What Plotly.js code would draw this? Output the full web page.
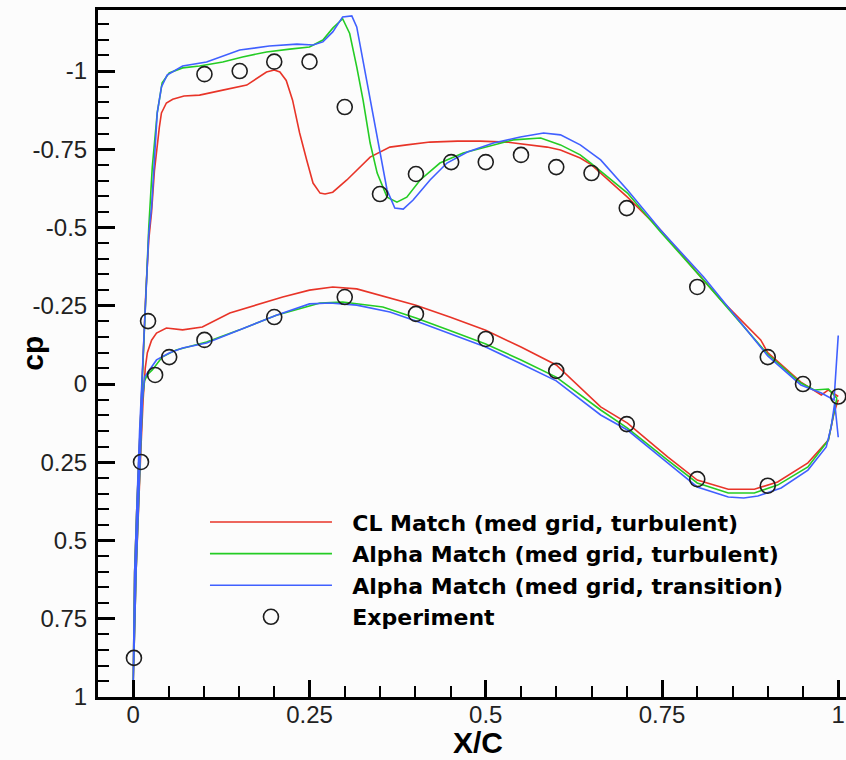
<!DOCTYPE html>
<html>
<head>
<meta charset="utf-8">
<script src="https://cdn.plot.ly/plotly-3.0.1.min.js"></script>
<style>html,body{margin:0;padding:0;background:#fcfcfc;}</style>
</head>
<body>
<div id="chart" style="width:846px;height:760px;"></div>
<script>
// ---- Data ----
const seriesNames = [
  "CL Match (med grid, turbulent)",
  "Alpha Match (med grid, turbulent)",
  "Alpha Match (med grid, transition)",
  "Experiment"
];

// CL Match (med grid, turbulent)
const redUpperX  = [0, 0.002, 0.005, 0.009, 0.013, 0.018, 0.022, 0.026, 0.03, 0.033, 0.037, 0.04, 0.047, 0.056, 0.072, 0.094, 0.127, 0.161, 0.179, 0.189, 0.2, 0.208, 0.217, 0.226, 0.236, 0.246, 0.255, 0.265, 0.272, 0.283, 0.303, 0.336, 0.364, 0.388, 0.421, 0.46, 0.492, 0.53, 0.587, 0.606, 0.634, 0.65, 0.701, 0.748, 0.809, 0.834, 0.89, 0.9, 0.947, 0.976, 0.986, 1.0];
const redUpperCp = [0.95, 0.6, 0.4, 0.15, -0.05, -0.3, -0.46, -0.55, -0.68, -0.738, -0.82, -0.866, -0.898, -0.91, -0.92, -0.923, -0.939, -0.955, -0.981, -0.997, -1.003, -0.997, -0.97, -0.907, -0.802, -0.716, -0.642, -0.61, -0.607, -0.613, -0.652, -0.725, -0.757, -0.764, -0.773, -0.776, -0.776, -0.773, -0.757, -0.748, -0.722, -0.7, -0.597, -0.492, -0.332, -0.268, -0.141, -0.1, -0.006, 0.035, 0.019, 0.04];
const redLowerX  = [0, 0.004, 0.008, 0.011, 0.014, 0.017, 0.02, 0.026, 0.033, 0.047, 0.07, 0.098, 0.137, 0.175, 0.212, 0.25, 0.283, 0.317, 0.364, 0.401, 0.45, 0.5, 0.55, 0.6, 0.663, 0.701, 0.758, 0.8, 0.844, 0.881, 0.914, 0.957, 0.986, 0.994, 1.0];
const redLowerCp = [0.95, 0.6, 0.35, 0.2, 0.05, -0.05, -0.1, -0.14, -0.163, -0.179, -0.173, -0.182, -0.227, -0.252, -0.278, -0.3, -0.31, -0.304, -0.275, -0.252, -0.213, -0.172, -0.118, -0.061, 0.073, 0.125, 0.233, 0.307, 0.336, 0.336, 0.313, 0.252, 0.179, 0.093, 0.05];

// Alpha Match (med grid, turbulent)
const greenUpperX  = [0, 0.002, 0.005, 0.009, 0.013, 0.018, 0.022, 0.027, 0.034, 0.041, 0.051, 0.07, 0.094, 0.127, 0.155, 0.189, 0.222, 0.25, 0.269, 0.283, 0.297, 0.307, 0.317, 0.326, 0.336, 0.346, 0.36, 0.374, 0.388, 0.407, 0.435, 0.468, 0.502, 0.539, 0.578, 0.606, 0.634, 0.649, 0.701, 0.748, 0.809, 0.9, 0.947, 0.966, 0.986, 0.998];
const greenUpperCp = [0.95, 0.6, 0.4, 0.15, -0.05, -0.3, -0.5, -0.693, -0.866, -0.962, -0.994, -1.01, -1.016, -1.029, -1.045, -1.061, -1.07, -1.077, -1.099, -1.137, -1.167, -1.12, -1.013, -0.907, -0.77, -0.674, -0.597, -0.581, -0.597, -0.652, -0.706, -0.738, -0.757, -0.78, -0.786, -0.764, -0.732, -0.706, -0.61, -0.486, -0.332, -0.095, -0.003, 0.019, 0.016, 0.045];
const greenLowerX  = [0, 0.004, 0.008, 0.011, 0.013, 0.016, 0.02, 0.027, 0.041, 0.061, 0.104, 0.151, 0.203, 0.265, 0.297, 0.354, 0.401, 0.45, 0.5, 0.55, 0.6, 0.663, 0.701, 0.758, 0.8, 0.844, 0.881, 0.914, 0.957, 0.986, 0.993, 0.998];
const greenLowerCp = [0.95, 0.6, 0.35, 0.2, 0.05, -0.01, -0.03, -0.045, -0.086, -0.109, -0.134, -0.173, -0.22, -0.259, -0.262, -0.246, -0.211, -0.17, -0.128, -0.077, -0.022, 0.083, 0.141, 0.243, 0.316, 0.348, 0.348, 0.323, 0.265, 0.179, 0.105, 0.045];

// Alpha Match (med grid, transition)
const blueUpperX  = [0, 0.002, 0.005, 0.009, 0.013, 0.018, 0.022, 0.026, 0.03, 0.034, 0.04, 0.048, 0.07, 0.104, 0.151, 0.193, 0.232, 0.255, 0.269, 0.283, 0.297, 0.31, 0.317, 0.326, 0.339, 0.35, 0.36, 0.371, 0.383, 0.397, 0.421, 0.445, 0.474, 0.511, 0.549, 0.582, 0.606, 0.634, 0.663, 0.701, 0.748, 0.809, 0.9, 0.947, 0.976, 0.994, 1.0];
const blueUpperCp = [0.95, 0.6, 0.4, 0.15, -0.05, -0.3, -0.48, -0.565, -0.716, -0.866, -0.949, -0.987, -1.016, -1.029, -1.067, -1.08, -1.086, -1.083, -1.093, -1.125, -1.173, -1.176, -1.141, -1.035, -0.875, -0.74, -0.62, -0.562, -0.559, -0.588, -0.652, -0.706, -0.741, -0.77, -0.789, -0.802, -0.796, -0.764, -0.716, -0.62, -0.492, -0.342, -0.09, 0.003, 0.029, 0.051, -0.155];
const blueLowerX  = [0, 0.004, 0.008, 0.011, 0.013, 0.016, 0.033, 0.051, 0.07, 0.104, 0.151, 0.203, 0.25, 0.279, 0.317, 0.364, 0.401, 0.45, 0.5, 0.55, 0.6, 0.663, 0.701, 0.758, 0.8, 0.844, 0.866, 0.886, 0.919, 0.957, 0.983, 0.99, 0.995, 1.0];
const blueLowerCp = [0.95, 0.6, 0.35, 0.2, 0.05, -0.022, -0.077, -0.099, -0.115, -0.131, -0.173, -0.22, -0.256, -0.259, -0.252, -0.23, -0.201, -0.16, -0.118, -0.065, -0.01, 0.099, 0.147, 0.252, 0.329, 0.361, 0.364, 0.358, 0.332, 0.275, 0.201, 0.137, 0.06, 0.17];

// Experiment
const expX  = [0.001, 0.011, 0.021, 0.031, 0.051, 0.101, 0.2, 0.3, 0.401, 0.5, 0.6, 0.7, 0.8, 0.9, 0.101, 0.151, 0.2, 0.25, 0.3, 0.35, 0.401, 0.451, 0.5, 0.55, 0.6, 0.65, 0.7, 0.8, 0.9, 0.95, 1.0];
const expCp = [0.875, 0.249, -0.201, -0.029, -0.086, -0.141, -0.214, -0.278, -0.224, -0.144, -0.042, 0.128, 0.304, 0.325, -0.99, -1.0, -1.03, -1.03, -0.885, -0.607, -0.671, -0.709, -0.709, -0.732, -0.693, -0.674, -0.562, -0.31, -0.086, 0.0, 0.04];

// Tick labels and axis titles
const xTickVals = [0, 0.25, 0.5, 0.75, 1];
const xTickText = ["0", "0.25", "0.5", "0.75", "1"];
const yTickVals = [-1, -0.75, -0.5, -0.25, 0, 0.25, 0.5, 0.75, 1];
const yTickText = ["-1", "-0.75", "-0.5", "-0.25", "0", "0.25", "0.5", "0.75", "1"];
const xTitle = "X/C";
const yTitle = "cp";

// ---- Build traces: upper surface (TE -> LE) then lower surface (LE -> TE) ----
function loop(ux, uy, lx, ly) {
  return {
    x: ux.slice().reverse().concat(lx.slice(1)),
    y: uy.slice().reverse().concat(ly.slice(1))
  };
}
const red = loop(redUpperX, redUpperCp, redLowerX, redLowerCp);
const green = loop(greenUpperX, greenUpperCp, greenLowerX, greenLowerCp);
const blue = loop(blueUpperX, blueUpperCp, blueLowerX, blueLowerCp);

const pad = "\u00a0\u00a0";
const traces = [
  {x: red.x, y: red.y, mode: "lines", name: pad + seriesNames[0], line: {color: "rgb(232,52,40)", width: 1.6}},
  {x: green.x, y: green.y, mode: "lines", name: pad + seriesNames[1], line: {color: "rgb(36,204,36)", width: 1.6}},
  {x: blue.x, y: blue.y, mode: "lines", name: pad + seriesNames[2], line: {color: "rgb(64,96,255)", width: 1.6}},
  {x: expX, y: expCp, mode: "markers", name: pad + seriesNames[3],
   marker: {symbol: "circle-open", size: 15, color: "#1e1e1e", line: {width: 1.6}}}
];

const axisCommon = {
  showgrid: false, zeroline: false,
  showline: true, linecolor: "#000", linewidth: 3,
  ticks: "inside", ticklen: 17, tickwidth: 3, tickcolor: "#000",
  tickfont: {family: "Liberation Sans, Arial, sans-serif", size: 24, color: "#222"},
  minor: {ticks: "inside", ticklen: 11, tickwidth: 2, tickcolor: "#000", dtick: 0.05}
};

const titleFont = {family: "Liberation Sans, Arial, sans-serif", size: 30, weight: "bold", color: "#000"};

const layout = {
  width: 846, height: 760,
  paper_bgcolor: "#fcfcfc", plot_bgcolor: "#fcfcfc",
  margin: {l: 98, r: 0, t: 10, b: 63},
  showlegend: true,
  font: {family: "Liberation Sans, Arial, sans-serif", color: "#000"},
  xaxis: Object.assign({}, axisCommon, {
    range: [-0.05, 1.011], mirror: true,
    tickmode: "array", tickvals: xTickVals, ticktext: xTickText,
    minor: Object.assign({}, axisCommon.minor, {tick0: 0}),
    ticklabelstandoff: -6
  }),
  yaxis: Object.assign({}, axisCommon, {
    range: [1, -1.195],
    tickmode: "array", tickvals: yTickVals, ticktext: yTickText,
    minor: Object.assign({}, axisCommon.minor, {tick0: 0}),
    ticklabelstandoff: 3
  }),
  annotations: [
    {
      text: xTitle, xref: "paper", yref: "paper", x: 0.508, y: -0.066,
      xanchor: "center", yanchor: "middle", showarrow: false, font: titleFont
    },
    {
      text: yTitle, xref: "paper", yref: "paper", x: -0.088, y: 0.5,
      xanchor: "center", yanchor: "middle", textangle: -90, showarrow: false, font: titleFont
    }
  ],
  legend: {
    x: 0.143, xanchor: "left", y: 0.285, yanchor: "top",
    bgcolor: "rgba(0,0,0,0)", borderwidth: 0,
    itemwidth: 122,
    font: {family: "DejaVu Sans, Liberation Sans, sans-serif", size: 22, weight: "bold", color: "#000"},
    tracegroupgap: 0
  }
};

Plotly.newPlot("chart", traces, layout, {displayModeBar: false, staticPlot: true});
</script>
</body>
</html>
